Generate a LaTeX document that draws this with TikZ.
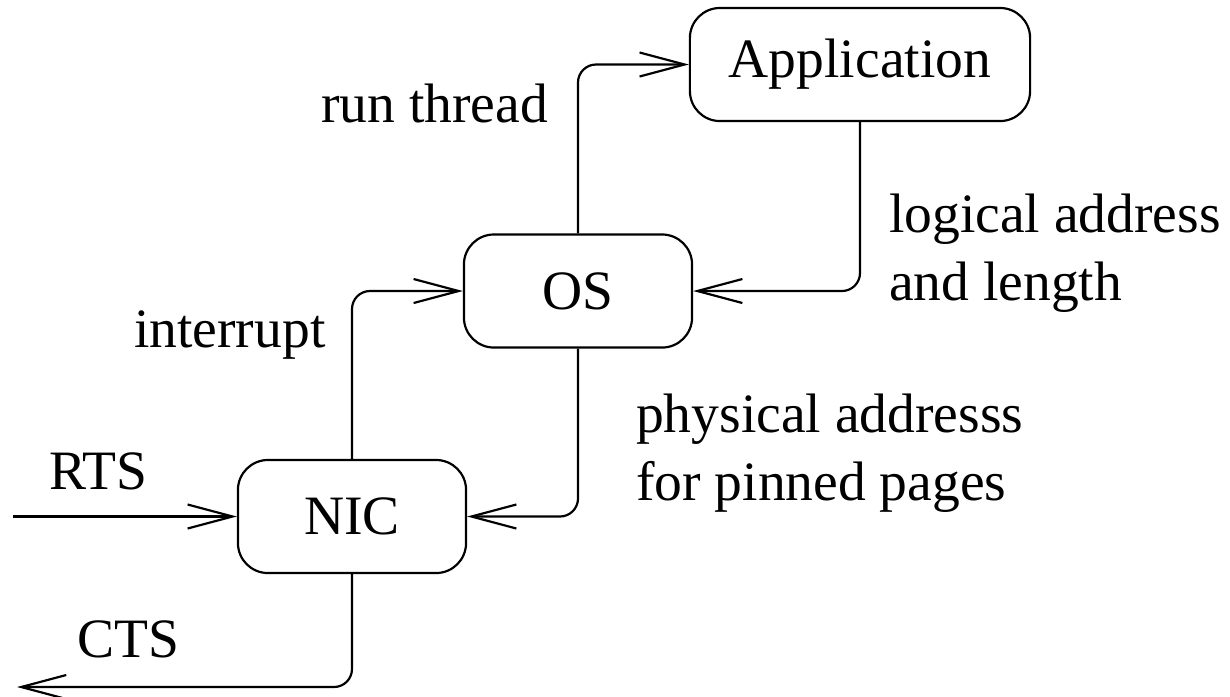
\documentclass[tikz,border=0pt]{standalone}
\usepackage{fontspec}
\setmainfont{Liberation Serif}
\usetikzlibrary{arrows.meta, positioning}

\begin{document}
\begin{tikzpicture}[x=0.01cm, y=-0.01cm, line width=0.62pt,
        every node/.style={font=\fontsize{15.8}{19.3}\selectfont},
        box/.style={draw, rectangle, rounded corners=0.3cm, minimum height=1.13cm},
        lbl/.style={inner sep=0pt, anchor=base west, align=left},
        flow/.style={-{Straight Barb[length=4.5mm, width=2.4mm]}, rounded corners=0.18cm}]
        \useasboundingbox (0,0) rectangle (1230,696);
        \node (app) [box, minimum width=3.4cm] at (860,64.5) {Application};
        \node (os) [box, minimum width=2.28cm] at (578,291) {OS};
        \node (nic) [box, minimum width=2.28cm] at (352,516.5) {NIC};
        \coordinate (rtsin) at (13,516.5);
        \coordinate (ctsout) at (17,687);

        \draw[flow] (os.north) |- (app.west);
        \draw[flow] (app.south) |- (os.east);
        \draw[flow] (nic.north) |- (os.west);
        \draw[flow] (os.south) |- (nic.east);
        \draw[flow] (rtsin) -- (nic.west);
        \draw[flow] (nic.south) |- (ctsout);

        % base of a two-line label is its last line
        \node[lbl] at (320,122) {run thread};
        \node[lbl] at (888,300) {logical address\\and length};
        \node[lbl] at (133,347) {interrupt};
        \node[lbl] at (635,500) {physical addresss\\for pinned pages};
        \node[lbl] at (48,489) {RTS};
        \node[lbl] at (76,657) {CTS};
    \end{tikzpicture}
\end{document}
